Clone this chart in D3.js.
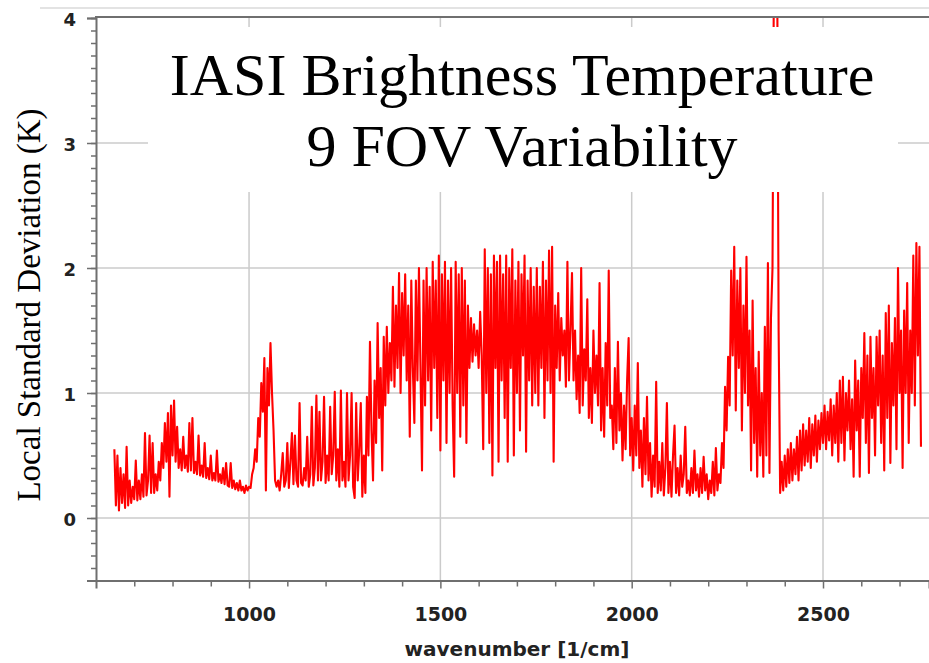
<!DOCTYPE html>
<html>
<head>
<meta charset="utf-8">
<script src="https://cdn.jsdelivr.net/npm/d3@7"></script>
<style>
  body { margin: 0; background: #fff; }
</style>
</head>
<body>
<div id="chart"></div>
<script>
// spectrum, one value every 4 cm-1 starting at 648 cm-1
const wavenumberStart = 648;
const wavenumberStep = 4;
const stdDevK = [
  0.55,0.1,0.5,0.06,0.4,0.12,0.35,0.08,0.57,0.1,0.3,0.12,0.25,0.15,0.46,0.14,0.3,0.15,0.35,0.17,0.68,0.18,0.3,0.66,0.2,
  0.6,0.2,0.35,0.22,0.45,0.3,0.6,0.4,0.76,0.45,0.84,0.17,0.9,0.5,0.94,0.45,0.73,0.4,0.55,0.38,0.65,0.4,0.5,0.37,0.76,
  0.38,0.8,0.36,0.45,0.35,0.66,0.34,0.42,0.33,0.6,0.32,0.4,0.31,0.5,0.3,0.36,0.3,0.54,0.29,0.35,0.28,0.4,0.27,0.44,0.26,
  0.25,0.44,0.24,0.3,0.23,0.28,0.22,0.3,0.22,0.25,0.2,0.26,0.22,0.25,0.24,0.35,0.4,0.55,0.45,0.8,0.65,1.08,0.85,1.28,0.22,
  1.2,0.9,1.4,1.0,0.7,0.3,0.25,0.3,0.22,0.35,0.52,0.25,0.3,0.6,0.24,0.45,0.68,0.27,0.66,0.3,0.25,0.92,0.28,0.26,0.4,
  0.3,0.65,0.25,0.35,0.89,0.26,0.4,0.98,0.3,0.85,0.3,0.45,0.97,0.28,0.5,0.3,0.89,0.35,0.5,1.01,0.3,0.55,0.25,1.02,0.3,
  0.45,0.25,1.0,0.3,0.5,1.0,0.25,0.16,0.92,0.3,0.55,0.92,0.17,0.5,0.2,0.97,0.5,1.41,0.7,0.3,1.1,0.6,1.56,0.8,1.2,
  0.38,1.45,0.9,1.53,1.0,1.4,1.1,1.85,1.05,1.7,1.2,1.96,1.0,1.8,1.3,1.95,1.1,1.7,0.65,1.9,1.2,0.76,1.9,1.1,2.0,
  1.2,0.38,1.9,0.9,2.0,1.1,1.85,0.7,2.05,1.2,1.9,0.8,2.1,0.54,1.95,1.1,2.05,0.6,1.9,1.0,2.0,0.9,0.33,2.05,1.0,
  1.95,0.65,2.0,0.9,1.9,0.6,1.7,1.2,1.6,1.25,1.55,1.3,1.5,1.2,1.65,1.3,0.55,2.15,1.0,2.0,0.6,1.95,0.34,2.1,1.2,
  2.05,0.45,2.1,1.1,1.95,0.8,2.1,0.45,2.0,1.2,2.15,0.5,1.9,1.0,2.05,0.7,1.95,1.3,2.1,0.53,1.9,1.1,2.0,0.9,1.85,
  1.0,2.0,0.9,1.85,1.2,2.05,0.8,1.9,1.1,2.14,1.0,2.17,0.45,1.7,1.2,1.8,1.1,1.6,1.3,1.5,1.05,2.05,1.1,1.5,1.96,
  1.1,1.5,0.95,1.3,0.84,2.0,0.9,1.35,1.1,1.75,0.8,1.2,0.76,1.5,1.0,1.3,0.9,1.88,0.7,1.2,0.65,1.4,0.9,1.98,0.8,
  0.9,0.55,1.2,0.6,1.41,0.7,1.0,0.46,0.9,0.55,1.1,1.44,0.5,0.8,0.38,0.9,0.5,1.24,0.4,0.7,0.25,0.8,0.35,0.97,0.3,
  0.6,0.17,0.5,0.25,1.09,0.2,0.45,0.22,0.6,0.18,0.4,0.92,0.2,0.45,0.17,0.5,0.74,0.2,0.4,0.18,0.5,0.25,0.35,0.73,0.2,
  0.3,0.18,0.4,0.2,0.54,0.22,0.35,0.17,0.4,0.2,0.49,0.22,0.35,0.15,0.3,0.2,0.45,0.18,0.56,0.22,0.35,0.28,0.6,0.4,1.05,
  0.7,1.29,0.9,1.98,1.3,2.17,0.86,1.9,1.2,2.0,0.7,1.7,1.0,2.09,0.9,1.5,0.38,1.74,0.6,1.2,0.33,1.33,0.5,1.0,0.33,
  1.53,0.5,2.04,0.36,1.6,2.0,4.6,4.6,4.6,1.5,0.2,0.45,0.22,0.5,0.25,0.55,0.28,0.6,0.3,0.55,0.35,0.65,0.3,0.7,0.38,
  0.75,0.42,0.7,0.45,0.8,0.4,0.75,0.5,0.82,0.45,0.78,0.55,0.84,0.6,0.9,0.55,0.85,0.62,0.95,0.5,0.9,0.6,1.0,0.45,1.1,
  0.6,1.13,0.46,1.0,0.7,1.1,0.55,0.95,0.33,1.26,0.7,1.1,0.33,1.2,0.8,1.48,0.6,1.3,0.36,1.45,0.8,1.2,0.5,1.45,0.9,
  1.5,0.6,1.3,0.38,1.64,0.8,1.7,0.44,1.4,0.9,1.6,0.55,2.0,1.0,1.5,0.4,1.66,1.0,1.88,0.6,1.5,1.0,2.1,0.9,2.2,
  1.3,2.17,0.57
];

const xMajorTicks = [1000, 1500, 2000, 2500];
const xMinorTicks = [700, 800, 900, 1100, 1200, 1300, 1400, 1600, 1700, 1800, 1900, 2100, 2200, 2300, 2400, 2600, 2700];
const yMajorTicks = [0, 1, 2, 3, 4];
const titleLines = ["IASI Brightness Temperature", "9 FOV Variability"];
const xLabel = "wavenumber [1/cm]";
const yLabel = "Local Standard Deviation (K)";

const width = 929, height = 663;
const plot = {left: 96, top: 17, right: 929, bottom: 580.5};

const svg = d3.select("#chart").append("svg")
  .attr("width", width)
  .attr("height", height)
  .attr("xmlns", "http://www.w3.org/2000/svg");

const x = d3.scaleLinear().domain([600, 2777]).range([plot.left, plot.right]);
const y = d3.scaleLinear().domain([-0.5, 4]).range([plot.bottom, 18]);

// faint edge line above the frame
svg.append("line")
  .attr("x1", 40).attr("x2", width).attr("y1", 8).attr("y2", 8)
  .attr("stroke", "#e3e3e3").attr("stroke-width", 2);

// grid
svg.append("g").selectAll("line").data(xMajorTicks).enter().append("line")
  .attr("x1", d => x(d)).attr("x2", d => x(d))
  .attr("y1", plot.top).attr("y2", plot.bottom)
  .attr("stroke", "#cbcbcb").attr("stroke-width", 1.5);
svg.append("g").selectAll("line").data(yMajorTicks.slice(0, 4)).enter().append("line")
  .attr("x1", plot.left).attr("x2", plot.right)
  .attr("y1", d => y(d)).attr("y2", d => y(d))
  .attr("stroke", "#cbcbcb").attr("stroke-width", 1.5);

// spectrum
svg.append("clipPath").attr("id", "plotClip")
  .append("rect")
  .attr("x", plot.left).attr("y", plot.top)
  .attr("width", plot.right - plot.left).attr("height", plot.bottom - plot.top);

const points = stdDevK.map((v, i) => ({wn: wavenumberStart + i * wavenumberStep, v: v}));
const line = d3.line()
  .x(d => x(d.wn))
  .y(d => y(d.v));

svg.append("path")
  .datum(points)
  .attr("clip-path", "url(#plotClip)")
  .attr("d", line)
  .attr("fill", "#ff0000")
  .attr("fill-opacity", 0)
  .attr("stroke", "#ff0000")
  .attr("stroke-width", 2.1)
  .attr("stroke-linejoin", "round");

// title panel sits over the plot
svg.append("rect")
  .attr("x", 148).attr("y", 27)
  .attr("width", 750).attr("height", 165)
  .attr("fill", "#ffffff");

svg.append("g").selectAll("text").data(titleLines).enter().append("text")
  .attr("x", 522)
  .attr("y", (d, i) => 95 + i * 71)
  .attr("text-anchor", "middle")
  .style("font-family", "'Liberation Serif', 'Times New Roman', serif")
  .style("font-size", "60px")
  .attr("fill", "#000")
  .text(d => d);

// axes
const axisColor = "#6f6f6f";

const xMinor = svg.append("g")
  .attr("transform", "translate(0," + plot.bottom + ")")
  .call(d3.axisBottom(x).tickValues(xMinorTicks).tickSize(6).tickFormat(""));
const xMajor = svg.append("g")
  .attr("transform", "translate(0," + plot.bottom + ")")
  .call(d3.axisBottom(x).tickValues(xMajorTicks).tickSize(8).tickFormat(d3.format("d")));

const yMinor = svg.append("g")
  .attr("transform", "translate(" + plot.left + ",0)")
  .call(d3.axisLeft(y).tickValues(d3.range(-5, 41).map(d => d / 10)).tickSize(5).tickFormat(""));
const yMajor = svg.append("g")
  .attr("transform", "translate(" + plot.left + ",0)")
  .call(d3.axisLeft(y).tickValues(yMajorTicks).tickSize(9).tickFormat(d3.format("d")));

[xMinor, xMajor, yMinor, yMajor].forEach(g => {
  g.select(".domain").attr("stroke", axisColor).attr("stroke-width", 2);
  g.selectAll(".tick line").attr("stroke", axisColor).attr("stroke-width", 1.5);
});
xMinor.select(".domain").remove();
yMinor.select(".domain").remove();

xMajor.selectAll(".tick text")
  .attr("y", 27.5)
  .attr("dy", "0.71em")
  .attr("fill", "#222")
  .style("font-family", "'DejaVu Sans', sans-serif")
  .style("font-weight", "bold")
  .style("font-size", "19px");

yMajor.selectAll(".tick text")
  .attr("x", -20)
  .attr("dy", "0.42em")
  .attr("fill", "#222")
  .style("font-family", "'DejaVu Sans', sans-serif")
  .style("font-weight", "bold")
  .style("font-size", "18px");

// top frame
svg.append("line")
  .attr("x1", plot.left - 1).attr("x2", plot.right)
  .attr("y1", plot.top).attr("y2", plot.top)
  .attr("stroke", axisColor).attr("stroke-width", 2);

// axis titles
svg.append("text")
  .attr("transform", "translate(40,305) rotate(-90)")
  .attr("text-anchor", "middle")
  .style("font-family", "'Liberation Serif', 'Times New Roman', serif")
  .style("font-size", "33px")
  .attr("fill", "#000")
  .text(yLabel);

svg.append("text")
  .attr("x", 517).attr("y", 656)
  .attr("text-anchor", "middle")
  .style("font-family", "'DejaVu Sans', sans-serif")
  .style("font-weight", "bold")
  .style("font-size", "20px")
  .attr("fill", "#222")
  .text(xLabel);
</script>
</body>
</html>
